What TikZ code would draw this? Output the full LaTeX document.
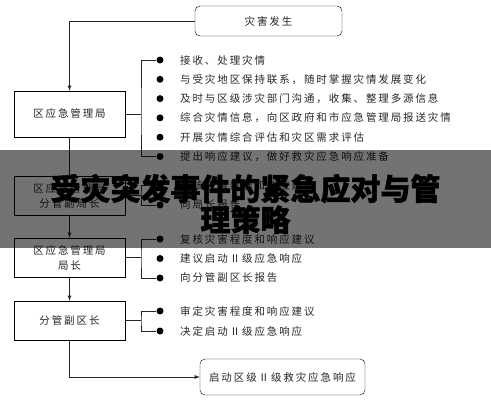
\documentclass[tikz,border=0pt]{standalone}
\usepackage{fontspec}
\newfontfamily\cjk[LetterSpace=18]{Noto Sans CJK SC}
\newfontfamily\cjktitle[BoldFeatures={FakeBold=1.6}]{Noto Sans CJK SC}
\usetikzlibrary{positioning}

\begin{document}
\begin{tikzpicture}[
		x=1pt, y=-1pt,
		% Define styles for nodes
		every node/.style={font=\cjk\fontsize{10.5}{15}\selectfont, text=black!85},
		box/.style={draw, rectangle, align=center, minimum width=111pt, minimum height=39pt, inner sep=2pt},
		event/.style={draw, rectangle, rounded corners=5pt, align=center, inner sep=2pt},
		dot/.style={circle, fill=black, inner sep=0pt, minimum size=7pt},
		item/.style={anchor=west, inner sep=0pt},
		link/.style={draw, line width=0.8pt, black!85},
		title/.style={font=\cjktitle\bfseries\fontsize{30}{31}\selectfont, text=black, align=center}
	]
	\useasboundingbox (0,0) rectangle (491,400);

	% Top and bottom events
	\node[event, minimum width=147pt, minimum height=30pt] (occur) at (268.5,21) {灾害发生};
	\node[event, minimum width=165pt, minimum height=36pt] (launch) at (282.5,377) {启动区级Ⅱ级救灾应急响应};

	% Offices
	\node[box, minimum height=46pt] (bureau) at (69.5,114) {区应急管理局};
	\node[box] (deputy) at (69.5,195.5) {区应急管理局\\分管副局长};
	\node[box] (chief) at (69.5,257.5) {区应急管理局\\局长};
	\node[box] (vice) at (69.5,320.5) {分管副区长};

	% Duties of the bureau
	\foreach \t [count=\i] in {接收、处理灾情,
			与受灾地区保持联系，随时掌握灾情发展变化,
			及时与区级涉灾部门沟通，收集、整理多源信息,
			综合灾情信息，向区政府和市应急管理局报送灾情,
			开展灾情综合评估和灾区需求评估,
			提出响应建议，做好救灾应急响应准备} {
		\node[dot] (a\i) at (160,{60+19.3*(\i-1)}) {};
		\node[item] at (180,{60+19.3*(\i-1)}) {\t};
	}
	\coordinate (ja) at (141,114);
	\path[link] (a1) -| (ja) |- (a6);
	\path[link] (bureau) -- (ja);

	% Duties of the deputy director
	\foreach \t [count=\i] in {审核灾情数据和响应建议, 向局长报告} {
		\node[dot] (b\i) at (160,{185+20*(\i-1)}) {};
		\node[item] at (180,{185+20*(\i-1)}) {\t};
	}
	\coordinate (jb) at (141,195.5);
	\path[link] (b1) -| (jb) |- (b2);
	\path[link] (deputy) -- (jb);

	% Duties of the director
	\foreach \t [count=\i] in {复核灾害程度和响应建议, 建议启动Ⅱ级应急响应, 向分管副区长报告} {
		\node[dot] (c\i) at (160,{239+19.5*(\i-1)}) {};
		\node[item] at (180,{239+19.5*(\i-1)}) {\t};
	}
	\coordinate (jc) at (141,257.5);
	\path[link] (c1) -| (jc) |- (c3);
	\path[link] (chief) -- (jc);

	% Duties of the vice district head
	\foreach \t [count=\i] in {审定灾害程度和响应建议, 决定启动Ⅱ级应急响应} {
		\node[dot] (d\i) at (160,{311+20*(\i-1)}) {};
		\node[item] at (180,{311+20*(\i-1)}) {\t};
	}
	\coordinate (jd) at (141,320.5);
	\path[link] (d1) -| (jd) |- (d2);
	\path[link] (vice) -- (jd);

	% Flow
	\path[link, -latex] (occur.west) -| (bureau.north);
	\path[link] (bureau) -- (deputy);
	\path[link, -latex] (deputy) -- (chief);
	\path[link, -latex] (chief) -- (vice);
	\path[link, -latex] (vice.south) |- (launch.west);

	% Title banner
	\fill[black, fill opacity=0.55] (0,150) rectangle (491,248);
	\node[title] (head) at (245.5,204) {受灾突发事件的紧急应对与管\\理策略};
\end{tikzpicture}
\end{document}
